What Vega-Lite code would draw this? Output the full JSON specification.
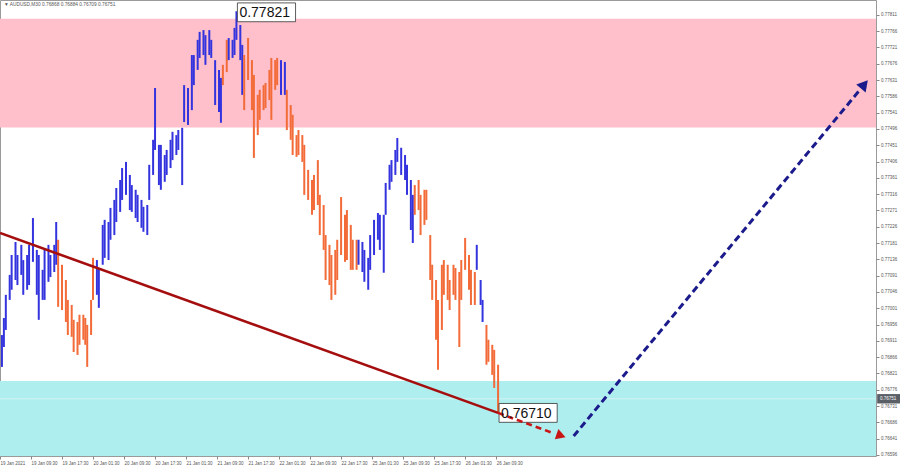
{
  "$schema": "https://vega.github.io/schema/vega-lite/v6.json",
  "width": 876,
  "height": 456,
  "autosize": {"type": "none"},
  "padding": {"left": 0, "top": 0, "right": 24, "bottom": 12},
  "background": "white",
  "config": {
    "view": {"stroke": "#9a9a9a", "strokeWidth": 1},
    "font": "Liberation Sans",
    "axis": {
      "grid": false, "domain": false, "title": null,
      "labelFontSize": 4.5, "labelColor": "#555555", "labelPadding": 1.5,
      "labelOverlap": false, "labelBound": false, "labelFlush": false,
      "tickSize": 3, "tickColor": "#888888"
    }
  },
  "datasets": {
    "resistance": [{"lo": 0.775, "hi": 0.778}],
    "support": [{"lo": 0.765, "hi": 0.768}],
    "quote": [{"price": 0.76751, "label": "0.76751"}],
    "header": [{"bar": 1, "price": 0.77839, "label": "▼ AUDUSD,M30  0.76868 0.76884 0.76709 0.76751"}],
    "trend": [{"bar": 0, "price": 0.77209}, {"bar": 257, "price": 0.76712}],
    "down_path": [{"bar": 257, "price": 0.76712}, {"bar": 286, "price": 0.76655}],
    "down_head": [{"bar": 289.5, "price": 0.76649}],
    "up_path": [{"bar": 296, "price": 0.76648}, {"bar": 444, "price": 0.77606}],
    "up_head": [{"bar": 446, "price": 0.77619}],
    "marks": [
      {"bar": 122, "price": 0.77818, "label": "0.77821"},
      {"bar": 257, "price": 0.76712, "label": "0.76710"}
    ],
    "bars": [
      {"bar": 1, "hi": 0.76927, "lo": 0.76839, "wave": "up"},
      {"bar": 2, "hi": 0.76974, "lo": 0.76894, "wave": "up"},
      {"bar": 3, "hi": 0.77038, "lo": 0.76941, "wave": "up"},
      {"bar": 5, "hi": 0.77093, "lo": 0.77024, "wave": "up"},
      {"bar": 6, "hi": 0.77148, "lo": 0.77052, "wave": "up"},
      {"bar": 8, "hi": 0.77184, "lo": 0.77079, "wave": "up"},
      {"bar": 9, "hi": 0.77148, "lo": 0.77065, "wave": "up"},
      {"bar": 11, "hi": 0.77176, "lo": 0.77093, "wave": "up"},
      {"bar": 12, "hi": 0.77134, "lo": 0.77038, "wave": "up"},
      {"bar": 14, "hi": 0.77148, "lo": 0.77052, "wave": "up"},
      {"bar": 15, "hi": 0.77176, "lo": 0.77065, "wave": "up"},
      {"bar": 17, "hi": 0.7725, "lo": 0.77129, "wave": "up"},
      {"bar": 19, "hi": 0.77162, "lo": 0.77038, "wave": "up"},
      {"bar": 20, "hi": 0.77148, "lo": 0.76969, "wave": "up"},
      {"bar": 22, "hi": 0.77107, "lo": 0.77024, "wave": "up"},
      {"bar": 23, "hi": 0.77162, "lo": 0.77024, "wave": "up"},
      {"bar": 25, "hi": 0.77176, "lo": 0.77074, "wave": "up"},
      {"bar": 26, "hi": 0.77148, "lo": 0.77087, "wave": "up"},
      {"bar": 28, "hi": 0.77176, "lo": 0.77101, "wave": "up"},
      {"bar": 29, "hi": 0.77239, "lo": 0.77121, "wave": "up"},
      {"bar": 30, "hi": 0.7719, "lo": 0.77005, "wave": "down"},
      {"bar": 32, "hi": 0.77121, "lo": 0.76996, "wave": "down"},
      {"bar": 34, "hi": 0.77079, "lo": 0.76963, "wave": "down"},
      {"bar": 35, "hi": 0.77024, "lo": 0.76927, "wave": "down"},
      {"bar": 37, "hi": 0.7701, "lo": 0.76922, "wave": "down"},
      {"bar": 38, "hi": 0.76969, "lo": 0.7688, "wave": "down"},
      {"bar": 40, "hi": 0.76963, "lo": 0.76872, "wave": "down"},
      {"bar": 41, "hi": 0.76983, "lo": 0.769, "wave": "down"},
      {"bar": 43, "hi": 0.76983, "lo": 0.76914, "wave": "down"},
      {"bar": 44, "hi": 0.76974, "lo": 0.769, "wave": "down"},
      {"bar": 45, "hi": 0.76955, "lo": 0.76839, "wave": "down"},
      {"bar": 47, "hi": 0.77024, "lo": 0.76927, "wave": "down"},
      {"bar": 48, "hi": 0.7714, "lo": 0.77024, "wave": "down"},
      {"bar": 50, "hi": 0.77134, "lo": 0.77038, "wave": "up"},
      {"bar": 51, "hi": 0.77112, "lo": 0.77002, "wave": "up"},
      {"bar": 53, "hi": 0.77231, "lo": 0.77121, "wave": "up"},
      {"bar": 54, "hi": 0.77245, "lo": 0.7714, "wave": "up"},
      {"bar": 56, "hi": 0.77239, "lo": 0.77134, "wave": "up"},
      {"bar": 57, "hi": 0.77278, "lo": 0.7719, "wave": "up"},
      {"bar": 59, "hi": 0.773, "lo": 0.77203, "wave": "up"},
      {"bar": 60, "hi": 0.77333, "lo": 0.77239, "wave": "up"},
      {"bar": 62, "hi": 0.77355, "lo": 0.77267, "wave": "up"},
      {"bar": 63, "hi": 0.77388, "lo": 0.773, "wave": "up"},
      {"bar": 65, "hi": 0.77405, "lo": 0.77314, "wave": "up"},
      {"bar": 67, "hi": 0.77369, "lo": 0.77272, "wave": "up"},
      {"bar": 68, "hi": 0.77341, "lo": 0.77267, "wave": "up"},
      {"bar": 70, "hi": 0.77328, "lo": 0.7725, "wave": "up"},
      {"bar": 71, "hi": 0.77314, "lo": 0.77239, "wave": "up"},
      {"bar": 73, "hi": 0.773, "lo": 0.77223, "wave": "up"},
      {"bar": 74, "hi": 0.77281, "lo": 0.77212, "wave": "up"},
      {"bar": 76, "hi": 0.77286, "lo": 0.77203, "wave": "up"},
      {"bar": 77, "hi": 0.77397, "lo": 0.773, "wave": "up"},
      {"bar": 79, "hi": 0.77466, "lo": 0.77369, "wave": "up"},
      {"bar": 80, "hi": 0.77609, "lo": 0.77438, "wave": "up"},
      {"bar": 82, "hi": 0.77452, "lo": 0.77341, "wave": "up"},
      {"bar": 83, "hi": 0.77452, "lo": 0.77328, "wave": "up"},
      {"bar": 85, "hi": 0.77424, "lo": 0.7735, "wave": "up"},
      {"bar": 86, "hi": 0.77438, "lo": 0.77369, "wave": "up"},
      {"bar": 88, "hi": 0.77466, "lo": 0.77388, "wave": "up"},
      {"bar": 89, "hi": 0.77488, "lo": 0.7741, "wave": "up"},
      {"bar": 91, "hi": 0.77479, "lo": 0.77424, "wave": "up"},
      {"bar": 92, "hi": 0.77493, "lo": 0.77438, "wave": "up"},
      {"bar": 94, "hi": 0.77499, "lo": 0.77341, "wave": "up"},
      {"bar": 95, "hi": 0.77617, "lo": 0.77515, "wave": "up"},
      {"bar": 97, "hi": 0.77609, "lo": 0.77507, "wave": "up"},
      {"bar": 99, "hi": 0.777, "lo": 0.77548, "wave": "up"},
      {"bar": 100, "hi": 0.777, "lo": 0.77617, "wave": "up"},
      {"bar": 102, "hi": 0.77742, "lo": 0.77659, "wave": "up"},
      {"bar": 103, "hi": 0.77764, "lo": 0.77692, "wave": "up"},
      {"bar": 105, "hi": 0.77769, "lo": 0.777, "wave": "up"},
      {"bar": 106, "hi": 0.77755, "lo": 0.77673, "wave": "up"},
      {"bar": 108, "hi": 0.77769, "lo": 0.777, "wave": "up"},
      {"bar": 109, "hi": 0.77742, "lo": 0.77692, "wave": "up"},
      {"bar": 111, "hi": 0.77686, "lo": 0.77562, "wave": "up"},
      {"bar": 113, "hi": 0.77659, "lo": 0.77543, "wave": "up"},
      {"bar": 114, "hi": 0.77637, "lo": 0.77513, "wave": "up"},
      {"bar": 115, "hi": 0.77673, "lo": 0.77617, "wave": "down"},
      {"bar": 117, "hi": 0.77742, "lo": 0.77653, "wave": "down"},
      {"bar": 118, "hi": 0.77747, "lo": 0.77686, "wave": "up"},
      {"bar": 120, "hi": 0.77742, "lo": 0.77692, "wave": "up"},
      {"bar": 121, "hi": 0.77775, "lo": 0.777, "wave": "up"},
      {"bar": 122, "hi": 0.77821, "lo": 0.77742, "wave": "up"},
      {"bar": 124, "hi": 0.77783, "lo": 0.77686, "wave": "up"},
      {"bar": 125, "hi": 0.77728, "lo": 0.7759, "wave": "up"},
      {"bar": 126, "hi": 0.777, "lo": 0.77548, "wave": "down"},
      {"bar": 128, "hi": 0.77747, "lo": 0.77631, "wave": "down"},
      {"bar": 130, "hi": 0.77686, "lo": 0.77548, "wave": "down"},
      {"bar": 131, "hi": 0.77645, "lo": 0.77416, "wave": "down"},
      {"bar": 133, "hi": 0.7759, "lo": 0.77479, "wave": "down"},
      {"bar": 134, "hi": 0.77604, "lo": 0.77521, "wave": "down"},
      {"bar": 136, "hi": 0.77617, "lo": 0.77548, "wave": "down"},
      {"bar": 137, "hi": 0.77623, "lo": 0.77554, "wave": "down"},
      {"bar": 139, "hi": 0.77659, "lo": 0.77576, "wave": "down"},
      {"bar": 140, "hi": 0.77692, "lo": 0.77521, "wave": "down"},
      {"bar": 142, "hi": 0.77686, "lo": 0.77604, "wave": "down"},
      {"bar": 143, "hi": 0.77692, "lo": 0.77617, "wave": "down"},
      {"bar": 145, "hi": 0.77686, "lo": 0.7759, "wave": "up"},
      {"bar": 147, "hi": 0.77681, "lo": 0.7759, "wave": "up"},
      {"bar": 148, "hi": 0.77604, "lo": 0.77493, "wave": "down"},
      {"bar": 150, "hi": 0.77562, "lo": 0.77466, "wave": "down"},
      {"bar": 151, "hi": 0.77535, "lo": 0.77424, "wave": "down"},
      {"bar": 153, "hi": 0.77479, "lo": 0.77419, "wave": "down"},
      {"bar": 154, "hi": 0.77493, "lo": 0.77424, "wave": "down"},
      {"bar": 156, "hi": 0.77479, "lo": 0.77405, "wave": "down"},
      {"bar": 157, "hi": 0.77452, "lo": 0.77314, "wave": "down"},
      {"bar": 159, "hi": 0.77383, "lo": 0.773, "wave": "down"},
      {"bar": 161, "hi": 0.77355, "lo": 0.77259, "wave": "down"},
      {"bar": 162, "hi": 0.77369, "lo": 0.77272, "wave": "down"},
      {"bar": 164, "hi": 0.7741, "lo": 0.77286, "wave": "down"},
      {"bar": 165, "hi": 0.77314, "lo": 0.77203, "wave": "down"},
      {"bar": 167, "hi": 0.77286, "lo": 0.77162, "wave": "down"},
      {"bar": 168, "hi": 0.77203, "lo": 0.77079, "wave": "down"},
      {"bar": 170, "hi": 0.77176, "lo": 0.77065, "wave": "down"},
      {"bar": 171, "hi": 0.77148, "lo": 0.77024, "wave": "down"},
      {"bar": 173, "hi": 0.77162, "lo": 0.77038, "wave": "down"},
      {"bar": 174, "hi": 0.7719, "lo": 0.77079, "wave": "down"},
      {"bar": 176, "hi": 0.77308, "lo": 0.77148, "wave": "down"},
      {"bar": 178, "hi": 0.77259, "lo": 0.77129, "wave": "down"},
      {"bar": 179, "hi": 0.77272, "lo": 0.77134, "wave": "down"},
      {"bar": 181, "hi": 0.77231, "lo": 0.77107, "wave": "down"},
      {"bar": 182, "hi": 0.7719, "lo": 0.77107, "wave": "down"},
      {"bar": 184, "hi": 0.7719, "lo": 0.77107, "wave": "down"},
      {"bar": 185, "hi": 0.7719, "lo": 0.77121, "wave": "up"},
      {"bar": 187, "hi": 0.77184, "lo": 0.77101, "wave": "up"},
      {"bar": 188, "hi": 0.77162, "lo": 0.77074, "wave": "up"},
      {"bar": 190, "hi": 0.7714, "lo": 0.77052, "wave": "up"},
      {"bar": 191, "hi": 0.77203, "lo": 0.77107, "wave": "up"},
      {"bar": 193, "hi": 0.77245, "lo": 0.77148, "wave": "up"},
      {"bar": 195, "hi": 0.77264, "lo": 0.7719, "wave": "up"},
      {"bar": 196, "hi": 0.77259, "lo": 0.77162, "wave": "up"},
      {"bar": 198, "hi": 0.77259, "lo": 0.77099, "wave": "up"},
      {"bar": 199, "hi": 0.77347, "lo": 0.77259, "wave": "up"},
      {"bar": 201, "hi": 0.77397, "lo": 0.77328, "wave": "up"},
      {"bar": 202, "hi": 0.7741, "lo": 0.7735, "wave": "up"},
      {"bar": 204, "hi": 0.77438, "lo": 0.77369, "wave": "up"},
      {"bar": 205, "hi": 0.77471, "lo": 0.77405, "wave": "up"},
      {"bar": 207, "hi": 0.77444, "lo": 0.77369, "wave": "up"},
      {"bar": 209, "hi": 0.77424, "lo": 0.77355, "wave": "up"},
      {"bar": 210, "hi": 0.77397, "lo": 0.77314, "wave": "up"},
      {"bar": 212, "hi": 0.77355, "lo": 0.77217, "wave": "up"},
      {"bar": 213, "hi": 0.77314, "lo": 0.77181, "wave": "up"},
      {"bar": 214, "hi": 0.77341, "lo": 0.77259, "wave": "down"},
      {"bar": 216, "hi": 0.77355, "lo": 0.77272, "wave": "down"},
      {"bar": 217, "hi": 0.77314, "lo": 0.77203, "wave": "down"},
      {"bar": 219, "hi": 0.77328, "lo": 0.77231, "wave": "down"},
      {"bar": 220, "hi": 0.77328, "lo": 0.77245, "wave": "down"},
      {"bar": 222, "hi": 0.77203, "lo": 0.77079, "wave": "down"},
      {"bar": 223, "hi": 0.77121, "lo": 0.77024, "wave": "down"},
      {"bar": 225, "hi": 0.77079, "lo": 0.76914, "wave": "down"},
      {"bar": 226, "hi": 0.77024, "lo": 0.76831, "wave": "down"},
      {"bar": 228, "hi": 0.77121, "lo": 0.76941, "wave": "down"},
      {"bar": 229, "hi": 0.77134, "lo": 0.77038, "wave": "down"},
      {"bar": 231, "hi": 0.77121, "lo": 0.77024, "wave": "down"},
      {"bar": 232, "hi": 0.77079, "lo": 0.76996, "wave": "down"},
      {"bar": 234, "hi": 0.77121, "lo": 0.77038, "wave": "down"},
      {"bar": 235, "hi": 0.77112, "lo": 0.77024, "wave": "down"},
      {"bar": 237, "hi": 0.77101, "lo": 0.76894, "wave": "down"},
      {"bar": 238, "hi": 0.77134, "lo": 0.77024, "wave": "down"},
      {"bar": 240, "hi": 0.77195, "lo": 0.77107, "wave": "down"},
      {"bar": 242, "hi": 0.77148, "lo": 0.77052, "wave": "down"},
      {"bar": 243, "hi": 0.77107, "lo": 0.7701, "wave": "down"},
      {"bar": 245, "hi": 0.77101, "lo": 0.7701, "wave": "down"},
      {"bar": 246, "hi": 0.77176, "lo": 0.77107, "wave": "up"},
      {"bar": 248, "hi": 0.77079, "lo": 0.7701, "wave": "up"},
      {"bar": 249, "hi": 0.77024, "lo": 0.76963, "wave": "up"},
      {"bar": 251, "hi": 0.76955, "lo": 0.76845, "wave": "down"},
      {"bar": 252, "hi": 0.76914, "lo": 0.76853, "wave": "down"},
      {"bar": 254, "hi": 0.769, "lo": 0.76817, "wave": "down"},
      {"bar": 255, "hi": 0.76886, "lo": 0.76781, "wave": "down"},
      {"bar": 257, "hi": 0.76845, "lo": 0.7671, "wave": "down"}
    ]
  },
  "layer": [
    {
      "data": {"name": "resistance"},
      "mark": {"type": "rect", "color": "#ffc0cb", "clip": true},
      "encoding": {
        "y": {"field": "hi", "type": "quantitative", "title": null, "scale": {"domain": [0.76593, 0.77852], "nice": false, "zero": false}},
        "y2": {"field": "lo"}
      }
    },
    {
      "data": {"name": "support"},
      "mark": {"type": "rect", "color": "#afeeee", "clip": true},
      "encoding": {
        "y": {"field": "hi", "type": "quantitative", "title": null, "scale": {"domain": [0.76593, 0.77852], "nice": false, "zero": false}},
        "y2": {"field": "lo"}
      }
    },
    {
      "data": {"name": "quote"},
      "mark": {"type": "rule", "color": "#d2f4f4", "strokeWidth": 1},
      "encoding": {
        "y": {"field": "price", "type": "quantitative", "title": null, "scale": {"domain": [0.76593, 0.77852], "nice": false, "zero": false}}
      }
    },
    {
      "data": {"name": "bars"},
      "mark": {"type": "rule", "strokeWidth": 2},
      "encoding": {
        "x": {
          "field": "bar", "type": "quantitative", "title": null,
          "scale": {"domain": [0, 452], "nice": false, "zero": false},
          "axis": {
            "orient": "bottom", "tickCount": 40,
            "values": [0, 16, 32, 48, 64, 80, 96, 112, 128, 144, 160, 176, 192, 208, 224, 240, 256],
            "labelExpr": "['19 Jan 2021','19 Jan 09:30','19 Jan 17:30','20 Jan 01:30','20 Jan 09:30','20 Jan 17:30','21 Jan 01:30','21 Jan 09:30','21 Jan 17:30','22 Jan 01:30','22 Jan 09:30','22 Jan 17:30','25 Jan 01:30','25 Jan 09:30','25 Jan 17:30','26 Jan 01:30','26 Jan 09:30'][round(datum.value / 16)]",
            "labelAlign": "left", "labelOverlap": false, "labelFontSize": 4.5, "labelBound": false, "labelFlush": false
          }
        },
        "y": {
          "field": "lo", "type": "quantitative", "title": null,
          "scale": {"domain": [0.76593, 0.77852], "nice": false, "zero": false},
          "axis": {
            "orient": "right", "tickCount": 40,
            "values": [0.77811, 0.77766, 0.77721, 0.77676, 0.77631, 0.77586, 0.77541, 0.77496, 0.77451, 0.77406, 0.77361, 0.77316, 0.77271, 0.77226, 0.77181, 0.77136, 0.77091, 0.77046, 0.77001, 0.76956, 0.76911, 0.76866, 0.76821, 0.76776, 0.76731, 0.76686, 0.76641, 0.76596],
            "format": ".5f", "labelOverlap": false, "labelFontSize": 4.5, "labelBound": false, "labelFlush": false
          }
        },
        "y2": {"field": "hi"},
        "color": {
          "field": "wave", "type": "nominal", "legend": null,
          "scale": {"domain": ["up", "down"], "range": ["#3434de", "#f26b38"]}
        }
      }
    },
    {
      "data": {"name": "trend"},
      "mark": {"type": "line", "color": "#a50e0e", "strokeWidth": 2.6},
      "encoding": {
        "x": {"field": "bar", "type": "quantitative", "title": null, "scale": {"domain": [0, 452], "nice": false, "zero": false}},
        "y": {"field": "price", "type": "quantitative", "title": null, "scale": {"domain": [0.76593, 0.77852], "nice": false, "zero": false}}
      }
    },
    {
      "data": {"name": "marks"},
      "transform": [
        {"calculate": "datum.bar + 0.5", "as": "x1"},
        {"calculate": "datum.bar + 30.5", "as": "x2"},
        {"calculate": "datum.price + 0.00026", "as": "y1"},
        {"calculate": "datum.price - 0.00026", "as": "y2"}
      ],
      "mark": {"type": "rect", "fill": "white", "stroke": "#333333", "strokeWidth": 0.8},
      "encoding": {
        "x": {"field": "x1", "type": "quantitative", "title": null, "scale": {"domain": [0, 452], "nice": false, "zero": false}},
        "x2": {"field": "x2"},
        "y": {"field": "y1", "type": "quantitative", "title": null, "scale": {"domain": [0.76593, 0.77852], "nice": false, "zero": false}},
        "y2": {"field": "y2"}
      }
    },
    {
      "data": {"name": "down_path"},
      "mark": {"type": "line", "color": "#c81616", "strokeWidth": 2.6, "strokeDash": [6, 4]},
      "encoding": {
        "x": {"field": "bar", "type": "quantitative", "title": null, "scale": {"domain": [0, 452], "nice": false, "zero": false}},
        "y": {"field": "price", "type": "quantitative", "title": null, "scale": {"domain": [0.76593, 0.77852], "nice": false, "zero": false}}
      }
    },
    {
      "data": {"name": "down_head"},
      "mark": {"type": "point", "shape": "triangle-up", "filled": true, "opacity": 1, "color": "#c81616", "size": 120, "angle": 109},
      "encoding": {
        "x": {"field": "bar", "type": "quantitative", "title": null, "scale": {"domain": [0, 452], "nice": false, "zero": false}},
        "y": {"field": "price", "type": "quantitative", "title": null, "scale": {"domain": [0.76593, 0.77852], "nice": false, "zero": false}}
      }
    },
    {
      "data": {"name": "up_path"},
      "mark": {"type": "line", "color": "#1b1b8c", "strokeWidth": 3, "strokeDash": [7, 4]},
      "encoding": {
        "x": {"field": "bar", "type": "quantitative", "title": null, "scale": {"domain": [0, 452], "nice": false, "zero": false}},
        "y": {"field": "price", "type": "quantitative", "title": null, "scale": {"domain": [0.76593, 0.77852], "nice": false, "zero": false}}
      }
    },
    {
      "data": {"name": "up_head"},
      "mark": {"type": "point", "shape": "triangle-up", "filled": true, "opacity": 1, "color": "#1b1b8c", "size": 150, "angle": 40},
      "encoding": {
        "x": {"field": "bar", "type": "quantitative", "title": null, "scale": {"domain": [0, 452], "nice": false, "zero": false}},
        "y": {"field": "price", "type": "quantitative", "title": null, "scale": {"domain": [0.76593, 0.77852], "nice": false, "zero": false}}
      }
    },
    {
      "data": {"name": "marks"},
      "transform": [{"calculate": "datum.bar + 0.5", "as": "x1"}],
      "mark": {"type": "text", "align": "left", "baseline": "middle", "dx": 2, "dy": 1, "fontSize": 14, "color": "#111111"},
      "encoding": {
        "x": {"field": "x1", "type": "quantitative", "title": null, "scale": {"domain": [0, 452], "nice": false, "zero": false}},
        "y": {"field": "price", "type": "quantitative", "title": null, "scale": {"domain": [0.76593, 0.77852], "nice": false, "zero": false}},
        "text": {"field": "label"}
      }
    },
    {
      "data": {"name": "quote"},
      "transform": [
        {"calculate": "datum.price + 0.00013", "as": "y1"},
        {"calculate": "datum.price - 0.00013", "as": "y2"}
      ],
      "mark": {"type": "rect", "fill": "#5a5f66"},
      "encoding": {
        "x": {"datum": 452.6, "type": "quantitative", "title": null, "scale": {"domain": [0, 452], "nice": false, "zero": false}},
        "x2": {"datum": 464.4},
        "y": {"field": "y1", "type": "quantitative", "title": null, "scale": {"domain": [0.76593, 0.77852], "nice": false, "zero": false}},
        "y2": {"field": "y2"}
      }
    },
    {
      "data": {"name": "quote"},
      "mark": {"type": "text", "align": "left", "baseline": "middle", "dx": 2, "fontSize": 4.5, "color": "white"},
      "encoding": {
        "x": {"datum": 453, "type": "quantitative", "title": null, "scale": {"domain": [0, 452], "nice": false, "zero": false}},
        "y": {"field": "price", "type": "quantitative", "title": null, "scale": {"domain": [0.76593, 0.77852], "nice": false, "zero": false}},
        "text": {"field": "label"}
      }
    },
    {
      "data": {"name": "header"},
      "mark": {"type": "text", "align": "left", "baseline": "middle", "dx": 2, "fontSize": 4.8, "color": "#555555"},
      "encoding": {
        "x": {"field": "bar", "type": "quantitative", "title": null, "scale": {"domain": [0, 452], "nice": false, "zero": false}},
        "y": {"field": "price", "type": "quantitative", "title": null, "scale": {"domain": [0.76593, 0.77852], "nice": false, "zero": false}},
        "text": {"field": "label"}
      }
    }
  ]
}
